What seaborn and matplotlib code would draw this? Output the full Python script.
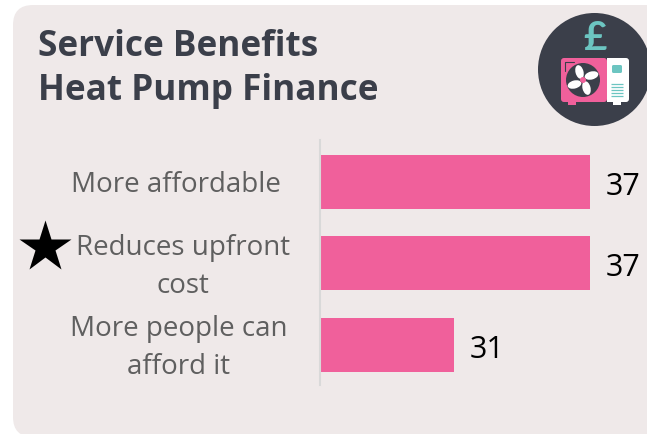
import matplotlib
matplotlib.use("Agg")
import matplotlib.pyplot as plt
from matplotlib.patches import FancyBboxPatch, Circle, Rectangle, Ellipse
from matplotlib.transforms import ScaledTranslation
import pandas as pd
import seaborn as sns

benefits = ["More affordable", "Reduces upfront\ncost", "More people can\nafford it"]
scores = [37, 37, 31]
title_lines = ["Service Benefits", "Heat Pump Finance"]

PANEL = "#EFE9E9"
PINK = "#F0609B"
TEAL = "#6CC5C1"
SLATE = "#3B3F4A"

sns.set_theme(style="white")
plt.rcParams["font.family"] = ["Open Sans", "DejaVu Sans"]

W, H = 647, 435
fig = plt.figure(figsize=(W / 100, H / 100), dpi=100, facecolor="white")

# Full-figure canvas in pixel units for the card and the icon
bg = fig.add_axes([0, 0, 1, 1], zorder=0)
bg.set_xlim(0, W)
bg.set_ylim(H, 0)
bg.axis("off")
bg.add_patch(FancyBboxPatch((13, 6), 700, 432, boxstyle="round,pad=0,rounding_size=20",
                            fc=PANEL, ec="none"))

# Bar chart on a truncated value axis
left, right, top, bottom = 319.5, W, 141, 386
ax = fig.add_axes([left / W, 1 - bottom / H, (right - left) / W, (bottom - top) / H], zorder=1)
ax.patch.set_alpha(0)
df = pd.DataFrame({"benefit": benefits, "score": scores})
sns.barplot(data=df, y="benefit", x="score", color=PINK, saturation=1, width=0.66,
            linewidth=0, ax=ax)
ax.set_xlim(25.09, 39.52)
ax.set_ylim(2.49, -0.51)
ax.set_xlabel("")
ax.set_ylabel("")
ax.set_xticks([])
for side in ("top", "right", "bottom"):
    ax.spines[side].set_visible(False)
ax.spines["left"].set_color("#D9D9D9")
ax.spines["left"].set_linewidth(1.5)
ax.tick_params(axis="y", length=0, pad=0)

# Category labels are centred on their own columns left of the axis
centres = [176, 183, 179]
lifts = [1, 6, 6.5]
for lab, cx, dy in zip(ax.get_yticklabels(), centres, lifts):
    lab.set_ha("center")
    lab.set_multialignment("center")
    lab.set_fontsize(20)
    lab.set_color("#5F5F5F")
    lab.set_linespacing(1.5)
    lab.set_transform(lab.get_transform()
                      + ScaledTranslation((cx - left) / 100, dy / 100, fig.dpi_scale_trans))

value_labels = ax.bar_label(ax.containers[0], fmt="%d", padding=11, fontsize=22, color="black")
for t in value_labels:
    t.xyann = (11.5, -3.0)

# Title
bg.text(38, 56, title_lines[0], fontsize=25.3, fontweight="bold", color=SLATE, va="baseline")
bg.text(38, 100, title_lines[1], fontsize=25.3, fontweight="bold", color=SLATE, va="baseline")

# Star beside the highlighted benefit
bg.plot([44.5], [248], marker="*", markersize=39, color="black", mec="none", clip_on=False)

# Heat pump icon
bg.add_patch(Circle((594.5, 70.5), 56.5, fc=SLATE, ec="none"))
bg.text(595, 38, "£", fontsize=29, fontweight="bold", family="Lato", color=TEAL, ha="center", va="center")
bg.add_patch(FancyBboxPatch((561, 59), 46, 44, boxstyle="round,pad=0,rounding_size=3", fc=PINK, ec="none"))
bg.add_patch(FancyBboxPatch((607, 59), 22, 44, boxstyle="round,pad=0,rounding_size=3", fc="white", ec="none"))
bg.add_patch(Rectangle((607, 59), 4, 44, fc="white", ec="none"))
bg.add_patch(Rectangle((568, 103), 8, 2.5, fc=PINK, ec="none"))
bg.add_patch(Rectangle((613, 103), 8, 2.5, fc="white", ec="none"))
bg.plot([564.5, 564.5, 574], [72, 62.5, 62.5], color=SLATE, lw=0.8)
bg.add_patch(Circle((583, 81), 17, fc=SLATE, ec="none"))
for angle, dx, dy in [(-15, 8.5, -4.5), (-105, -3.5, -8), (165, -8.5, 4.5), (75, 3.5, 8)]:
    bg.add_patch(Ellipse((583 + dx, 81 + dy), 14, 8, angle=angle, fc="white", ec="none"))
bg.add_patch(Circle((583, 81), 3, fc=PINK, ec="none"))
bg.add_patch(FancyBboxPatch((612, 66), 10, 8, boxstyle="round,pad=0,rounding_size=1.5", fc=TEAL, ec="none"))
for y in (85, 88, 91, 94, 97):
    bg.plot([611, 623], [y, y], color=TEAL, lw=0.9, solid_capstyle="butt")

fig.savefig("out.png", dpi=100, facecolor="white")
